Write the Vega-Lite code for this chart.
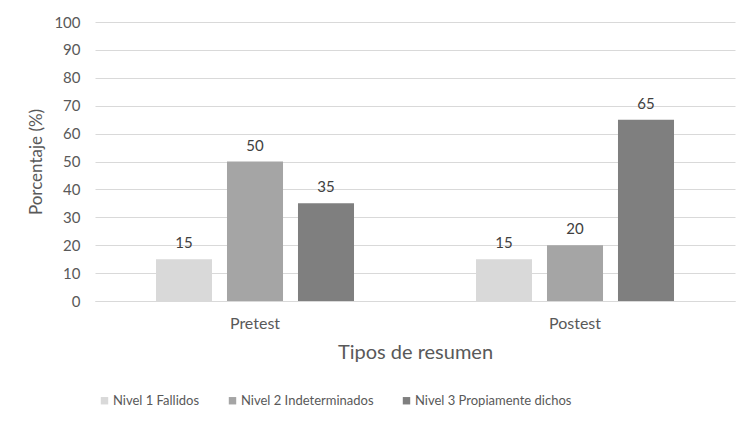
{
  "$schema": "https://vega.github.io/schema/vega-lite/v6.json",
  "autosize": {"type": "none"},
  "padding": {"left": 95, "top": 22, "right": 21, "bottom": 128},
  "width": 640,
  "height": 279,
  "background": "white",
  "config": {
    "font": "Lato",
    "view": {"stroke": null},
    "axis": {"labelColor": "#595959", "titleColor": "#595959", "titleFontWeight": "normal", "labelFont": "Lato", "titleFont": "Lato"},
    "legend": {"labelColor": "#595959", "labelFont": "Lato"}
  },
  "data": {
    "values": [
      {"tipo": "Pretest", "nivel": "Nivel 1 Fallidos", "valor": 15},
      {"tipo": "Pretest", "nivel": "Nivel 2 Indeterminados", "valor": 50},
      {"tipo": "Pretest", "nivel": "Nivel 3 Propiamente dichos", "valor": 35},
      {"tipo": "Postest", "nivel": "Nivel 1 Fallidos", "valor": 15},
      {"tipo": "Postest", "nivel": "Nivel 2 Indeterminados", "valor": 20},
      {"tipo": "Postest", "nivel": "Nivel 3 Propiamente dichos", "valor": 65}
    ]
  },
  "encoding": {
    "x": {
      "field": "tipo", "type": "nominal", "sort": ["Pretest", "Postest"],
      "scale": {"paddingInner": 0, "paddingOuter": 0},
      "axis": {"title": "Tipos de resumen", "labelAngle": 0, "ticks": false, "domainColor": "#d9d9d9", "labelFontSize": 16, "labelPadding": 14, "titleFontSize": 20, "titlePadding": 11}
    },
    "xOffset": {"field": "nivel", "type": "nominal", "scale": {"paddingInner": 0.211, "paddingOuter": 0.859}},
    "y": {
      "field": "valor", "type": "quantitative",
      "scale": {"domain": [0, 100]},
      "axis": {"title": "Porcentaje (%)", "values": [0,10,20,30,40,50,60,70,80,90,100], "grid": true, "gridColor": "#d9d9d9", "domain": false, "ticks": false, "labelFontSize": 15, "labelPadding": 15, "titleFontSize": 17, "titlePadding": 8}
    }
  },
  "layer": [
    {
      "mark": {"type": "bar"},
      "encoding": {
        "color": {
          "field": "nivel", "type": "nominal",
          "scale": {"domain": ["Nivel 1 Fallidos", "Nivel 2 Indeterminados", "Nivel 3 Propiamente dichos"], "range": ["#d9d9d9", "#a5a5a5", "#7f7f7f"]},
          "legend": {"title": null, "orient": "none", "direction": "horizontal", "legendX": 3, "legendY": 372, "symbolType": "square", "symbolSize": 55, "symbolStrokeWidth": 0, "labelFontSize": 13, "labelLimit": 0, "columnPadding": 26, "labelOffset": 2}
        }
      }
    },
    {
      "mark": {"type": "text", "baseline": "alphabetic", "dy": -11, "fontSize": 15, "color": "#404040"},
      "encoding": {"text": {"field": "valor", "type": "quantitative"}}
    }
  ]
}
